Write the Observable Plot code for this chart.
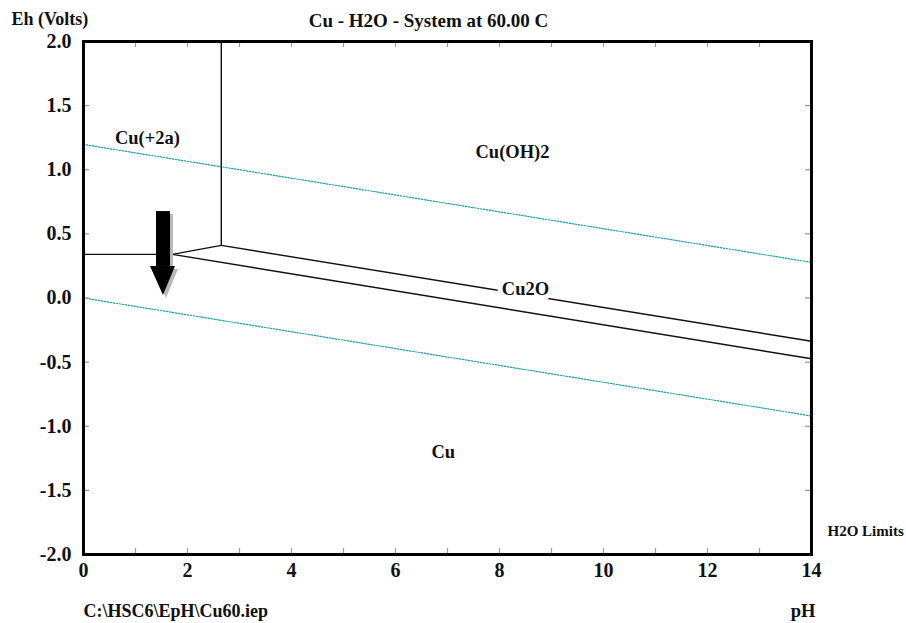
<!DOCTYPE html>
<html>
<head>
<meta charset="utf-8">
<script src="https://cdn.jsdelivr.net/npm/d3@7"></script>
<script src="https://cdn.jsdelivr.net/npm/@observablehq/plot@0.6"></script>
<style>
  html, body { margin: 0; padding: 0; background: #fff; }
  svg { display: block; }
  svg text { font-family: 'Liberation Serif', 'Times New Roman', serif !important; font-weight: bold; }
</style>
</head>
<body>
<div id="chart"></div>
<script>
// ---- Data ----
const titleText = "Cu - H2O - System at 60.00 C";
const yAxisTitle = "Eh (Volts)";
const xAxisTitle = "pH";
const fileLabel = "C:\\HSC6\\EpH\\Cu60.iep";
const limitsLabel = "H2O Limits";

const xTickLabels = [0, 2, 4, 6, 8, 10, 12, 14];
const xMinorTicks = [0, 1, 2, 3, 4, 5, 6, 7, 8, 9, 10, 11, 12, 13, 14];
const yTickLabels = [-2.0, -1.5, -1.0, -0.5, 0.0, 0.5, 1.0, 1.5, 2.0];

// Phase boundaries (pH, Eh)
const bCu2aCuOH2 = {pH: [2.65, 2.65], Eh: [2.0, 0.41]};
const bCu2aCu = {pH: [0, 1.71], Eh: [0.34, 0.34]};
const bCu2aCu2O = {pH: [1.71, 2.65], Eh: [0.34, 0.41]};
const bCuOH2Cu2O = {pH: [2.65, 14], Eh: [0.41, -0.337]};
const bCu2OCu = {pH: [1.71, 14], Eh: [0.34, -0.474]};

// Water stability limits
const waterO2 = {pH: [0, 14], Eh: [1.197, 0.278]};
const waterH2 = {pH: [0, 14], Eh: [0.0, -0.92]};

// Region labels
const regionNames = ["Cu(+2a)", "Cu(OH)2", "Cu", "Cu2O"];
const regionPH = [1.23, 8.25, 6.92, 8.5];
const regionEh = [1.25, 1.135, -1.205, 0.066];

// Arrow (shaft + head) in pH / Eh units
const arrowShaft = {pH1: 1.404, pH2: 1.673, Eh1: 0.246, Eh2: 0.674};
const arrowHeadPH = [1.288, 1.538, 1.769];
const arrowHeadTop = [0.246, 0.246, 0.246];
const arrowHeadTip = [0.246, 0.02, 0.246];

// ---- Build tables ----
const toRows = (b) => b.pH.map((p, i) => ({pH: p, Eh: b.Eh[i]}));
const boundaries = [bCu2aCuOH2, bCu2aCu, bCu2aCu2O, bCuOH2Cu2O, bCu2OCu];
const regions = regionNames.map((n, i) => ({name: n, pH: regionPH[i], Eh: regionEh[i]}));
const head = arrowHeadPH.map((p, i) => ({pH: p, top: arrowHeadTop[i], tip: arrowHeadTip[i]}));

const W = 906, H = 623, mL = 83, mR = 95, mT = 41, mB = 69;
const plotW = W - mL - mR, plotH = H - mT - mB, tickLen = 6;
const teal = "#1fa0a0";
const tickColor = "#9a9a9a";

const lineMarks = boundaries.map(b => Plot.line(toRows(b), {x: "pH", y: "Eh", stroke: "#111", strokeWidth: 1.4}));
const waterMarks = [waterO2, waterH2].map(b => Plot.line(toRows(b), {x: "pH", y: "Eh", stroke: teal, strokeWidth: 1.2, strokeDasharray: "1.5,1.5"}));

function arrowMarks(fill, dx, dy) {
  return [
    Plot.rect([arrowShaft], {x1: "pH1", x2: "pH2", y1: "Eh1", y2: "Eh2", fill, dx, dy}),
    Plot.areaY(head, {x: "pH", y1: "top", y2: "tip", fill, dx, dy})
  ];
}

const outside = {lineAnchor: "middle", fill: "#111"};

const chart = Plot.plot({
  width: W,
  height: H,
  marginLeft: mL,
  marginRight: mR,
  marginTop: mT,
  marginBottom: mB,
  style: {fontFamily: "Liberation Serif", fontWeight: "bold", color: "#111", background: "#fff"},
  x: {domain: [0, 14]},
  y: {domain: [-2, 2]},
  marks: [
    ...waterMarks,
    ...lineMarks,
    ...arrowMarks("#b8b8b8", 3, 3),
    ...arrowMarks("#000", 0, 0),
    Plot.text(regions, {x: "pH", y: "Eh", text: "name", fontSize: 18.5, fill: "#111",
      stroke: d => d.name === "Cu2O" ? "white" : "none", strokeWidth: 10, paintOrder: "stroke"}),
    // inward minor ticks
    Plot.tickX(xMinorTicks, {x: d => d, insetTop: plotH - tickLen, stroke: tickColor, strokeWidth: 1.2}),
    Plot.tickX(xMinorTicks, {x: d => d, insetBottom: plotH - tickLen, stroke: tickColor, strokeWidth: 1.2}),
    Plot.tickY(yTickLabels, {y: d => d, insetRight: plotW - tickLen, stroke: tickColor, strokeWidth: 1.2}),
    Plot.tickY(yTickLabels, {y: d => d, insetLeft: plotW - tickLen, stroke: tickColor, strokeWidth: 1.2}),
    // tick labels
    Plot.axisX(xTickLabels, {anchor: "bottom", tickSize: 0, tickPadding: 8, fontSize: 20, label: null, tickFormat: d => String(d)}),
    Plot.axisY(yTickLabels, {anchor: "left", tickSize: 0, tickPadding: 12, fontSize: 20, label: null, tickFormat: d => d.toFixed(1)}),
    Plot.frame({stroke: "#000", strokeWidth: 3}),
    // titles
    Plot.text([titleText], {frameAnchor: "top", dx: -19, dy: -21, fontSize: 19, ...outside}),
    Plot.text([yAxisTitle], {frameAnchor: "top-left", textAnchor: "start", dx: -72, dy: -22, fontSize: 18, ...outside}),
    Plot.text([fileLabel], {frameAnchor: "bottom-left", textAnchor: "start", dx: 0, dy: 57, fontSize: 18, ...outside}),
    Plot.text([xAxisTitle], {frameAnchor: "bottom-right", dx: 4, dy: 57, fontSize: 18.5, ...outside}),
    Plot.text([limitsLabel], {frameAnchor: "bottom-right", textAnchor: "start", dx: 16, dy: -23, fontSize: 15, ...outside})
  ]
});
document.getElementById("chart").appendChild(chart);
</script>
</body>
</html>
